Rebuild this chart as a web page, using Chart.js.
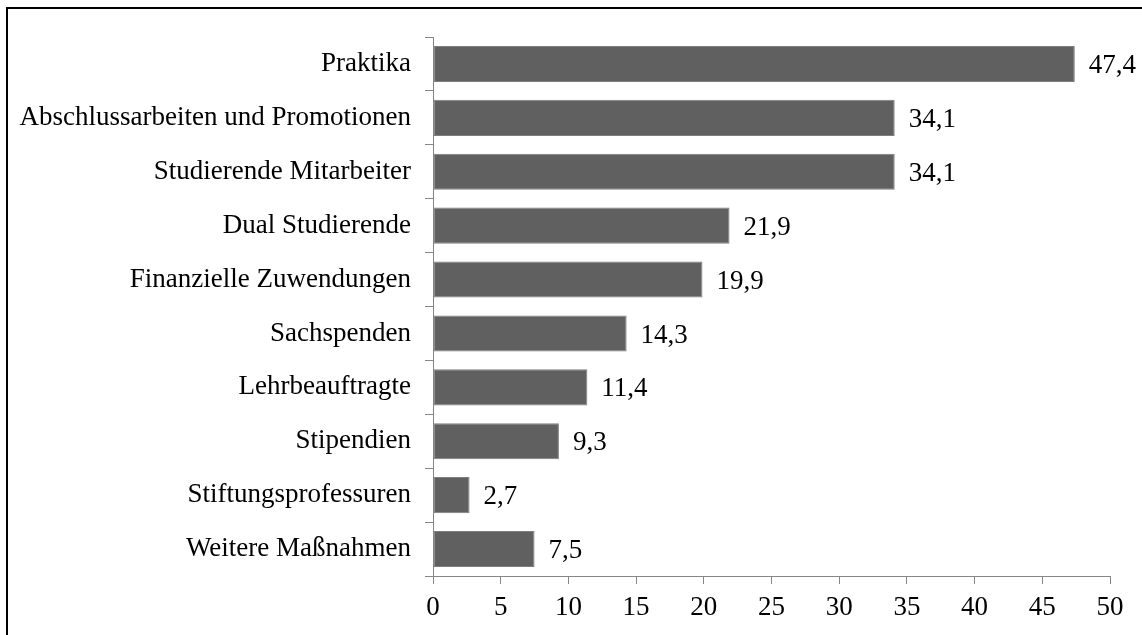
<!DOCTYPE html>
<html>
<head>
<meta charset="utf-8">
<script src="https://cdn.jsdelivr.net/npm/chart.js@4"></script>
<style>
    html, body { margin: 0; padding: 0; background: #fff; overflow: hidden; }
    #wrap { position: relative; width: 1142px; height: 635px; }
    #frame { position: absolute; left: 6px; top: 7px; width: 1200px; height: 700px;
             border-left: 2px solid #000; border-top: 2px solid #000; box-sizing: border-box; }
    canvas { position: absolute; left: 0; top: 0; }
</style>
</head>
<body>
<div id="wrap">
    <div id="frame"></div>
    <canvas id="barCanvas" width="1142" height="635"></canvas>
</div>
<script>
// Chart values
const categories = [
    "Praktika",
    "Abschlussarbeiten und Promotionen",
    "Studierende Mitarbeiter",
    "Dual Studierende",
    "Finanzielle Zuwendungen",
    "Sachspenden",
    "Lehrbeauftragte",
    "Stipendien",
    "Stiftungsprofessuren",
    "Weitere Maßnahmen"
];
const values = [47.4, 34.1, 34.1, 21.9, 19.9, 14.3, 11.4, 9.3, 2.7, 7.5];
const xTicks = [0, 5, 10, 15, 20, 25, 30, 35, 40, 45, 50];

const fontFamily = "'Liberation Serif', 'Times New Roman', serif";
const fontSize = 27;
const axisColor = "#868686";

// Draw the value next to the end of each bar
const valueLabels = {
    id: "valueLabels",
    afterDatasetsDraw(chart) {
        const ctx = chart.ctx;
        const meta = chart.getDatasetMeta(0);
        ctx.save();
        ctx.font = `${fontSize}px ${fontFamily}`;
        ctx.fillStyle = "#000";
        ctx.textAlign = "left";
        ctx.textBaseline = "middle";
        meta.data.forEach((bar, i) => {
            const txt = values[i].toFixed(1).replace(".", ",");
            ctx.fillText(txt, bar.x + 14, bar.y + 2);
        });
        ctx.restore();
    }
};

const ctx = document.getElementById("barCanvas").getContext("2d");
const barChart = new Chart(ctx, {
    type: "bar",
    data: {
        labels: categories,
        datasets: [{
            data: values,
            backgroundColor: "#606060",
            borderColor: "#7e7e7e",
            borderWidth: 1,
            borderSkipped: false,
            barPercentage: 0.67,
            categoryPercentage: 1.0,
        }],
    },
    options: {
        indexAxis: "y",
        responsive: false,
        animation: false,
        layout: {
            padding: { left: 0, right: 32, top: 37, bottom: 19 },
        },
        plugins: {
            legend: { display: false },
            tooltip: { enabled: false },
        },
        scales: {
            x: {
                min: 0,
                max: 50,
                afterBuildTicks: (scale) => {
                    scale.ticks = xTicks.map((v) => ({ value: v }));
                },
                afterFit: (scale) => { scale.height = 40; },
                border: { display: true, color: axisColor, width: 1 },
                grid: { drawOnChartArea: false, drawTicks: true, tickLength: 8, color: axisColor },
                ticks: {
                    color: "#000",
                    font: { family: fontFamily, size: fontSize },
                    padding: 8,
                    maxRotation: 0,
                },
            },
            y: {
                afterFit: (scale) => { scale.width = 433; },
                border: { display: true, color: axisColor, width: 1 },
                grid: { drawOnChartArea: false, drawTicks: true, tickLength: 8, color: axisColor, offset: true },
                ticks: {
                    color: "#000",
                    font: { family: fontFamily, size: fontSize },
                    padding: 14,
                    autoSkip: false,
                },
            },
        },
    },
    plugins: [valueLabels],
});
</script>
</body>
</html>
